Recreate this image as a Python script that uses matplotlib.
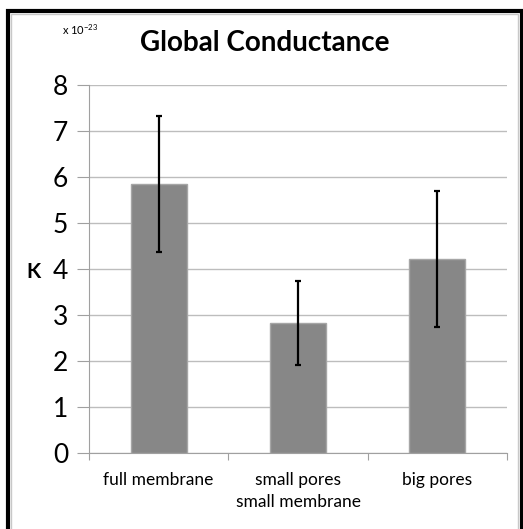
import numpy as np
import matplotlib.pyplot as plt
from matplotlib.patches import Rectangle

# Datos
categorias = ["full membrane", "small pores\nsmall membrane", "big pores"]
valores = [5.85, 2.83, 4.21]
errores = [1.47, 0.91, 1.48]
ticks_y = [0, 1, 2, 3, 4, 5, 6, 7, 8]

plt.rcParams['font.family'] = ['Lato', 'DejaVu Sans']

fig = plt.figure(figsize=(5.23, 5.29), dpi=100)
ax = fig.add_axes([89 / 523, 1 - 453 / 529, (507 - 89) / 523, (453 - 85) / 529])

x = np.arange(len(valores))
ax.bar(x, valores, width=0.4, color="#878787", edgecolor="#a6a6a6", linewidth=1, zorder=3)
ax.errorbar(x, valores, yerr=errores, fmt="none", ecolor="black", elinewidth=1.6,
            capsize=2.5, capthick=1.6, zorder=4)

ax.set_xlim(-0.5, 2.5)
ax.set_ylim(0, 8)
ax.set_yticks(ticks_y)
ax.set_yticklabels([str(t) for t in ticks_y], fontsize=19)
ax.set_xticks([-0.5, 0.5, 1.5, 2.5], minor=False)
ax.set_xticklabels([])
ax.set_xticks(x, minor=True)
ax.set_xticklabels(categorias, minor=True, fontsize=12.5, linespacing=1.45)
ax.tick_params(axis='x', which='minor', length=0, pad=14)
ax.tick_params(axis='x', which='major', length=5, color="#a0a0a0", direction='out')
ax.tick_params(axis='y', length=9, color="#a0a0a0", direction='out', pad=6)

ax.grid(axis='y', color="#bdbdbd", linewidth=1, zorder=0)
for lado in ["top", "right"]:
    ax.spines[lado].set_visible(False)
ax.spines["left"].set_color("#a0a0a0")
ax.spines["bottom"].set_color("#a0a0a0")

fig.text(265 / 523, 1 - 43 / 529, "Global Conductance", ha="center", va="center",
         fontsize=20, fontweight="bold")
fig.text(62 / 523, 1 - 30 / 529, r"x 10$^{\mathregular{-23}}$", ha="left", va="center", fontsize=8)
fig.text(33 / 523, 1 - 272 / 529, "K", ha="center", va="center", fontsize=15, fontweight="bold")

# Marco exterior
fig.patches.append(Rectangle((8 / 523, -5 / 529), 514 / 523, 523 / 529,
                             transform=fig.transFigure, fill=False,
                             edgecolor="black", linewidth=3))
fig.patches.append(Rectangle((11 / 523, -5 / 529), 507 / 523, 520 / 529,
                             transform=fig.transFigure, fill=False,
                             edgecolor="#c8c8c8", linewidth=1))

plt.savefig("out.png", dpi=100)
